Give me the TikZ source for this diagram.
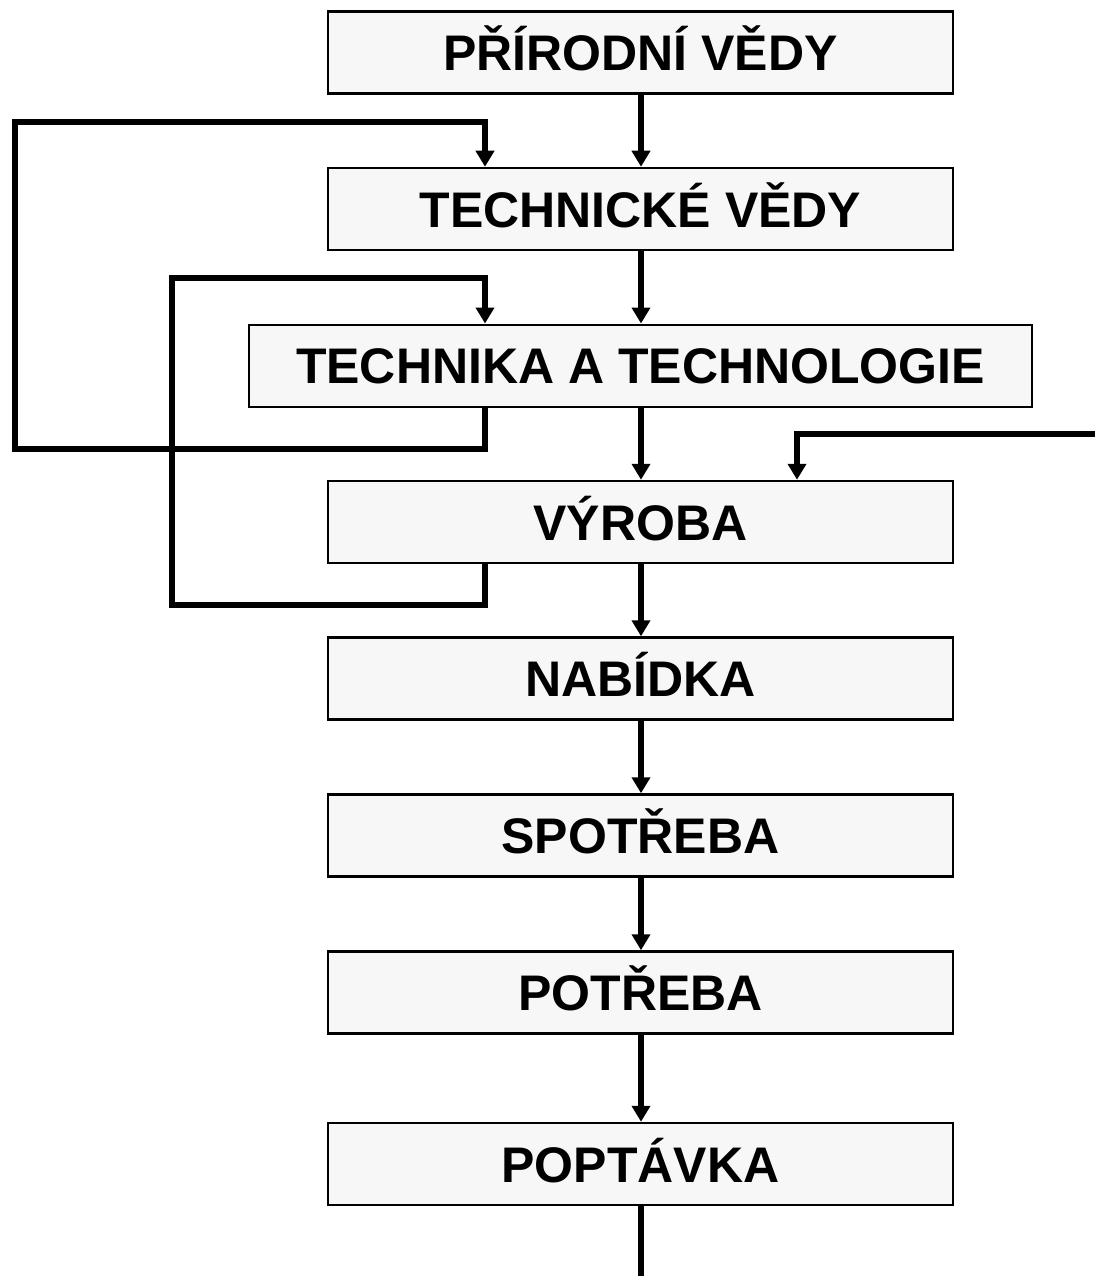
\documentclass[tikz,border=0pt]{standalone}
\usepackage{fontspec}
\setmainfont{Liberation Sans}
\usetikzlibrary{arrows.meta}
\begin{document}
\begin{tikzpicture}[x=1pt,y=-1pt,
  box/.style={draw=black,line width=2.5pt,fill=boxfill,minimum height=82pt,
    minimum width=625pt,inner sep=0pt,text height=36pt,text depth=0pt,
    font=\fontsize{50pt}{50pt}\selectfont\bfseries},
  conn/.style={line width=5.5pt,line join=miter,-{Triangle[width=18pt 0,length=16pt 0]}},
  plain/.style={line width=5.5pt,line join=miter}]
\definecolor{boxfill}{HTML}{F7F7F7}
\useasboundingbox (0,0) rectangle (1095,1276);
\node[box] (b1) at (640.5,52.5) {PŘÍRODNÍ VĚDY};
\node[box] (b2) at (640.5,209) {TECHNICKÉ VĚDY};
\node[box,minimum width=783pt] (b3) at (640.5,365.75) {TECHNIKA A TECHNOLOGIE};
\node[box] (b4) at (640.5,522) {VÝROBA};
\node[box] (b5) at (640.5,678.5) {NABÍDKA};
\node[box] (b6) at (640.5,835.5) {SPOTŘEBA};
\node[box] (b7) at (640.5,992.5) {POTŘEBA};
\node[box] (b8) at (640.5,1164) {POPTÁVKA};
\coordinate (end) at (641,1276);
\coordinate (ext) at (1095,434);
% main chain
\draw[conn] (b1.south -| 641,0) -- (b2.north -| 641,0);
\draw[conn] (b2.south -| 641,0) -- (b3.north -| 641,0);
\draw[conn] (b3.south -| 641,0) -- (b4.north -| 641,0);
\draw[conn] (b4.south -| 641,0) -- (b5.north -| 641,0);
\draw[conn] (b5.south -| 641,0) -- (b6.north -| 641,0);
\draw[conn] (b6.south -| 641,0) -- (b7.north -| 641,0);
\draw[conn] (b7.south -| 641,0) -- (b8.north -| 641,0);
\draw[plain] (b8.south -| 641,0) -- (end);
% feedback loops
\draw[conn] (b3.south -| 485,0) -- (485,449) -- (15,449) -- (15,122) -- (485,122) -- (b2.north -| 485,0);
\draw[conn] (b4.south -| 485,0) -- (485,605) -- (172,605) -- (172,278) -- (485,278) -- (b3.north -| 485,0);
\draw[conn] (ext) -- (797,434) -- (b4.north -| 797,0);
\end{tikzpicture}
\end{document}
